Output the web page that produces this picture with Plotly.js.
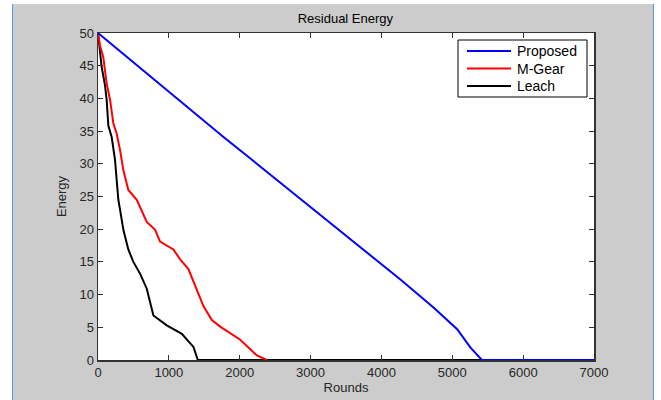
<!DOCTYPE html>
<html>
<head>
<meta charset="utf-8">
<script src="https://cdn.plot.ly/plotly-3.0.1.min.js"></script>
<style>
  html, body { margin: 0; padding: 0; background: #ffffff; }
  #wrap { position: relative; width: 661px; height: 400px; overflow: hidden; }
  #bg { position: absolute; left: 12px; top: 4px; width: 640px; height: 396px; background: #cccccc;
        border-left: 1px solid #5b9bd5; border-right: 1px solid #5b9bd5; }
  #chart { position: absolute; left: 0; top: 0; width: 661px; height: 400px; }
</style>
</head>
<body>
<div id="wrap">
  <div id="bg"></div>
  <div id="chart"></div>
</div>
<script>
// Proposed
const proposedX = [0, 500, 1064, 1771, 2289, 2902, 3561, 4268, 4739, 5069, 5257, 5418, 7000];
const proposedY = [50, 45.5, 40.4, 34.1, 29.6, 24.2, 18.5, 12.3, 8.0, 4.7, 1.9, 0, 0];
// M-Gear
const mgearX = [0, 28, 75, 122, 170, 216, 264, 311, 358, 428, 547, 688, 806, 876, 1064, 1159, 1276, 1395, 1489, 1607, 1724, 2007, 2242, 2384];
const mgearY = [50, 48.1, 46.3, 42.3, 39.8, 36.2, 34.6, 32.1, 29.0, 26.0, 24.5, 21.1, 19.9, 18.1, 16.9, 15.4, 13.9, 10.7, 8.2, 6.1, 5.1, 3.1, 0.7, 0];
// Leach
const leachX = [0, 28, 52, 99, 122, 146, 193, 240, 287, 311, 358, 428, 499, 594, 688, 782, 971, 1183, 1347, 1409, 7000];
const leachY = [50, 47.0, 44.8, 42.0, 39.8, 35.8, 34.1, 30.6, 24.5, 23.0, 19.9, 16.9, 15.0, 13.2, 10.9, 6.8, 5.3, 4.0, 2.0, 0, 0];

const xTicks = [0, 1000, 2000, 3000, 4000, 5000, 6000, 7000];
const yTicks = [0, 5, 10, 15, 20, 25, 30, 35, 40, 45, 50];
const seriesNames = ['Proposed', 'M-Gear', 'Leach'];
const seriesColors = ['#0000ff', '#ff0000', '#000000'];

const font = 'Liberation Sans, Arial, sans-serif';

const data = [
  { x: leachX, y: leachY, name: seriesNames[2], mode: 'lines', line: { color: seriesColors[2], width: 2 } },
  { x: mgearX, y: mgearY, name: seriesNames[1], mode: 'lines', line: { color: seriesColors[1], width: 2 } },
  { x: proposedX, y: proposedY, name: seriesNames[0], mode: 'lines', line: { color: seriesColors[0], width: 2 } }
];

const M = { l: 98, r: 67, t: 33, b: 40 };
const W = 661, H = 400;
const pw = W - M.l - M.r, ph = H - M.t - M.b;
const px = v => (v - M.l) / pw;
const py = v => (H - M.b - v) / ph;

// manual legend (MATLAB style)
const shapes = [
  { type: 'rect', xref: 'paper', yref: 'paper', x0: px(458), x1: px(587), y0: py(97), y1: py(40),
    line: { color: '#000000', width: 1 }, fillcolor: '#ffffff', layer: 'above' }
];
const annotations = [];
const rowY = [51, 68.5, 86];
seriesNames.forEach((n, i) => {
  shapes.push({ type: 'line', xref: 'paper', yref: 'paper', x0: px(467), x1: px(511), y0: py(rowY[i]), y1: py(rowY[i]),
    line: { color: seriesColors[i], width: 2 }, layer: 'above' });
  annotations.push({ xref: 'paper', yref: 'paper', x: px(515), y: py(rowY[i]), xanchor: 'left', yanchor: 'middle',
    text: n, showarrow: false, font: { family: font, size: 14, color: '#000000' } });
});

const axisCommon = {
  showgrid: false, zeroline: false, showline: true, linecolor: '#333333', linewidth: 1.5,
  mirror: 'ticks', ticks: 'inside', ticklen: 5, tickwidth: 1, tickcolor: '#333333',
  tickfont: { family: font, size: 13, color: '#262626' }
};

const layout = {
  width: W, height: H,
  margin: M,
  paper_bgcolor: 'rgba(0,0,0,0)',
  plot_bgcolor: '#ffffff',
  title: { text: 'Residual Energy', font: { family: font, size: 13, color: '#000000' },
           x: 0.5225, xanchor: 'center', y: 0.955, yanchor: 'middle' },
  xaxis: Object.assign({}, axisCommon, {
    range: [0, 7000], tickvals: xTicks, ticktext: xTicks.map(String),
    title: { text: 'Rounds', font: { family: font, size: 13, color: '#262626' }, standoff: 4 }
  }),
  yaxis: Object.assign({}, axisCommon, {
    range: [0, 50], tickvals: yTicks, ticktext: yTicks.map(String),
    title: { text: 'Energy', font: { family: font, size: 13, color: '#262626' }, standoff: 10 }
  }),
  showlegend: false,
  shapes: shapes,
  annotations: annotations
};

Plotly.newPlot('chart', data, layout, { displayModeBar: false, staticPlot: true });
</script>
</body>
</html>
